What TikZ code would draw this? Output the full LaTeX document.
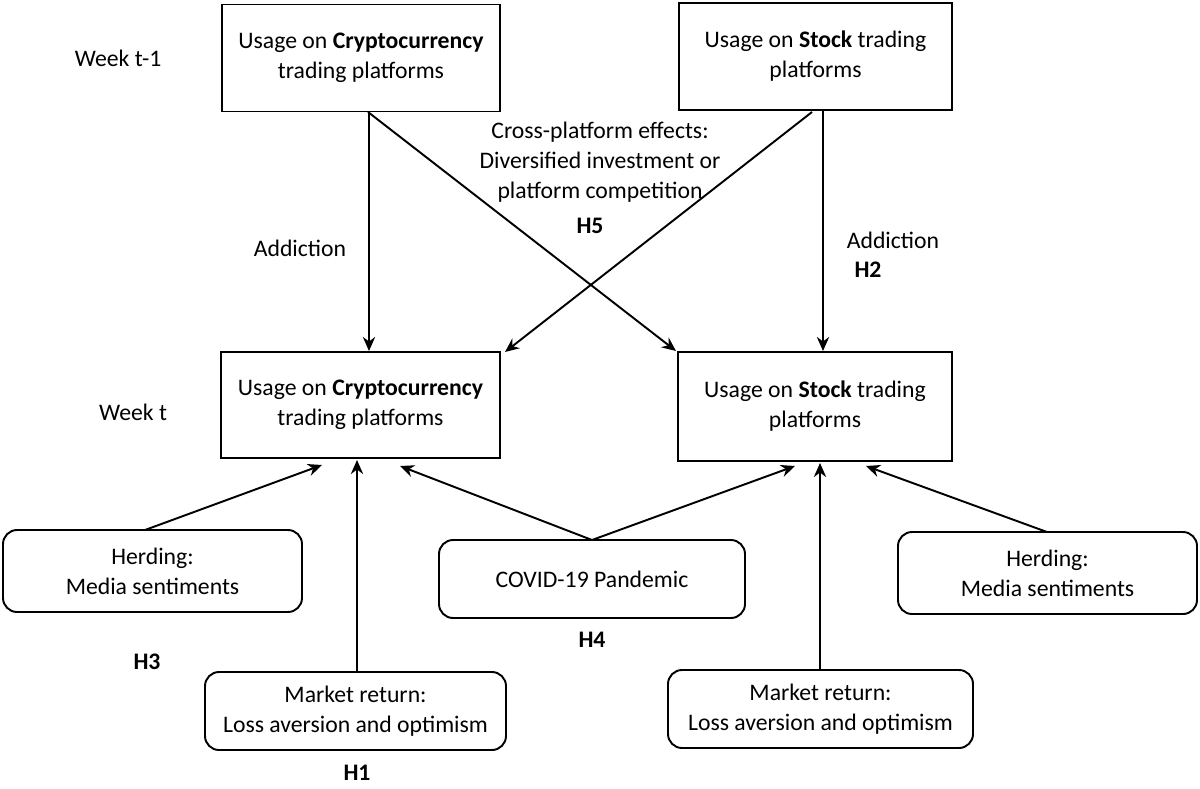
\documentclass[tikz,border=0pt]{standalone}
\usepackage{fontspec}
\setmainfont{Carlito}
\usetikzlibrary{arrows.meta}
\begin{document}
\begin{tikzpicture}[x=0.02cm,y=-0.02cm,
  box/.style={draw,line width=1.1pt,inner sep=0,align=center,font=\fontsize{13.5}{17}\selectfont},
  rbox/.style={box,rounded corners=8pt},
  lab/.style={align=center,font=\fontsize{13.5}{17}\selectfont},
  arr/.style={line width=1.1pt,-{Stealth[length=8pt,width=7pt]}}]
\useasboundingbox (0,0) rectangle (1200,788);
\node[box,minimum width=278*0.02cm,minimum height=107*0.02cm] (tc) at (361,58) {Usage on \textbf{Cryptocurrency}\\trading platforms};
\node[box,minimum width=273*0.02cm,minimum height=107*0.02cm] (ts) at (815.5,56.5) {Usage on \textbf{Stock} trading\\platforms};
\node[box,minimum width=279*0.02cm,minimum height=106*0.02cm] (mc) at (360.5,405) {Usage on \textbf{Cryptocurrency}\\trading platforms};
\node[box,minimum width=274*0.02cm,minimum height=109*0.02cm] (ms) at (815,406.5) {Usage on \textbf{Stock} trading\\platforms};
\node[rbox,minimum width=299*0.02cm,minimum height=82*0.02cm] (hl) at (152.5,571) {Herding:\\Media sentiments};
\node[rbox,minimum width=306*0.02cm,minimum height=78*0.02cm] (cv) at (592,579) {COVID-19 Pandemic};
\node[rbox,minimum width=299*0.02cm,minimum height=82*0.02cm] (hr) at (1047.5,573) {Herding:\\Media sentiments};
\node[rbox,minimum width=301*0.02cm,minimum height=78*0.02cm] (ml) at (355.5,711) {Market return:\\Loss aversion and optimism};
\node[rbox,minimum width=305*0.02cm,minimum height=78*0.02cm] (mr) at (820.5,709) {Market return:\\Loss aversion and optimism};
\node[lab] (w1) at (118,58) {Week t-1};
\node[lab] (w2) at (133,412) {Week t};
\node[lab] (a1) at (300,248) {Addiction};
\node[lab] (cp) at (600,162) {Cross-platform effects:\\Diversified investment or\\platform competition};
\node[lab] (h5) at (590,226) {\textbf{H5}};
\node[lab] (a2) at (893,240) {Addiction};
\node[lab] (h2) at (868,270) {\textbf{H2}};
\node[lab] (h3) at (147,662) {\textbf{H3}};
\node[lab] (h4) at (592,640) {\textbf{H4}};
\node[lab] (h1) at (357,773) {\textbf{H1}};
\coordinate (p1) at (369,112); \coordinate (q1) at (369,351);
\coordinate (p2) at (823,110); \coordinate (q2) at (823,351);
\draw[arr] (p1) -- (q1);
\draw[arr] (p2) -- (q2);
\coordinate (p3) at (368,112); \coordinate (q3) at (676,351);
\draw[arr] (p3) -- (q3);
\coordinate (p4) at (812,112); \coordinate (q4) at (505,352);
\draw[arr] (p4) -- (q4);
\coordinate (a) at (145,530); \coordinate (b) at (322,465);
\draw[arr] (a) -- (b);
\coordinate (c) at (357,672); \coordinate (d) at (357,460);
\draw[arr] (c) -- (d);
\coordinate (e) at (592,540); \coordinate (f) at (400,466); \coordinate (g) at (795,466);
\draw[arr] (e) -- (f); \draw[arr] (e) -- (g);
\coordinate (h) at (820,670); \coordinate (i) at (820,463);
\draw[arr] (h) -- (i);
\coordinate (j) at (1047,532); \coordinate (k) at (866,466);
\draw[arr] (j) -- (k);
\end{tikzpicture}
\end{document}
